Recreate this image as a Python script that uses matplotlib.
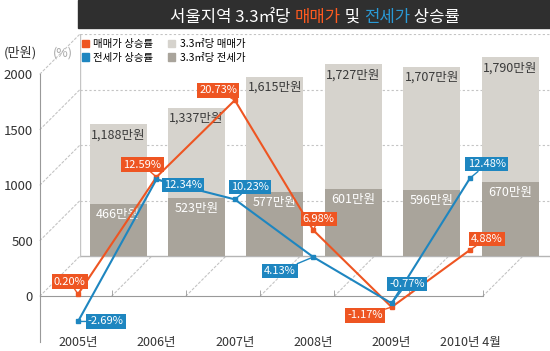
import numpy as np
import matplotlib.pyplot as plt
from matplotlib.patches import Rectangle, Patch, ConnectionPatch

plt.rcParams['font.family'] = ['Noto Sans CJK KR', 'DejaVu Sans']

years = ['2005년', '2006년', '2007년', '2008년', '2009년', '2010년 4월']
sale_price = [1188, 1337, 1615, 1727, 1707, 1790]      # 3.3㎡당 매매가 (만원)
jeonse_price = [466, 523, 577, 601, 596, 670]          # 3.3㎡당 전세가 (만원)
sale_rate = [0.20, 12.59, 20.73, 6.98, -1.17, 4.88]    # 매매가 상승률 (%)
jeonse_rate = [-2.69, 12.34, 10.23, 4.13, -0.77, 12.48]  # 전세가 상승률 (%)

# label box offsets (points) relative to each point
sale_off = [(-6, 9), (-10, 9), (-12, 7), (4, 8), (-19, -6), (12, 8)]
jeonse_off = [(20, 0), (19, -4), (11, 9), (-24, -10), (11, 14), (12, 10)]

ORANGE = '#ee5522'
BLUE = '#1e86c0'
LIGHT = '#d6d3cd'
DARK = '#a9a49b'
GRID = '#c4c4c4'

W, H = 550, 351


def box(l, t, r, b):
    return [l / W, 1 - b / H, (r - l) / W, (b - t) / H]


fig = plt.figure(figsize=(W / 100, H / 100), dpi=100)

# 3D 느낌: 뒤쪽 평면(막대)과 앞쪽 평면(선)
x = np.arange(len(years))
xl = -0.485
ylim = (-414, 2000)
pct_per_unit = 85.1

ax_back = fig.add_axes(box(80, 34, 550, 302))
ax_back.set_xlim(xl, xl + 470 / 78.4)
ax_back.set_ylim(*ylim)
ax_back.axis('off')
ax_back.set_zorder(1)
for g in [500, 1000, 1500, 2000]:
    ax_back.axhline(g, color=GRID, lw=0.8, ls=(0, (2, 2)), zorder=1)
ax_back.axhline(0, color='#b5b5b5', lw=1, zorder=1)
ax_back.plot([xl, xl], [0, 2000], color=GRID, lw=1, zorder=1)

ax_back.bar(x, sale_price, width=0.727, color=LIGHT, zorder=2)
ax_back.bar(x, jeonse_price, width=0.727, color=DARK, zorder=3)
for i in range(len(years)):
    ax_back.annotate(f'{sale_price[i]:,}만원', (x[i], sale_price[i]), xytext=(0, -3),
                     textcoords='offset points', ha='center', va='top',
                     fontsize=9, color='#3a3a3a', zorder=4)
    ax_back.annotate(f'{jeonse_price[i]}만원', (x[i], jeonse_price[i]), xytext=(0, -3),
                     textcoords='offset points', ha='center', va='top',
                     fontsize=9, color='white', zorder=4)

ax_front = fig.add_axes(box(40, 74, 483, 342))
ax_front.set_zorder(2)
ax_front.patch.set_visible(False)
ax_front.set_xlim(xl, xl + 443 / 78.4)
ax_front.set_ylim(*ylim)
for s in ['top', 'right']:
    ax_front.spines[s].set_visible(False)
ax_front.spines['left'].set_color('#999999')
ax_front.spines['bottom'].set_color('#999999')
ax_front.spines['bottom'].set_position(('data', 0))
ax_front.set_yticks([0, 500, 1000, 1500, 2000])
ax_front.tick_params(axis='y', length=0, pad=5, labelsize=9.5, labelcolor='#333333')
ax_front.set_xticks(x)
ax_front.set_xticklabels(years)
ax_front.tick_params(axis='x', which='major', length=0, pad=29, labelsize=9, labelcolor='#333333')
tick_pos = np.linspace(0.43, xl + 443 / 78.4, 6)
ax_front.set_xticks(tick_pos, minor=True)
ax_front.tick_params(axis='x', which='minor', direction='in', length=4, color='#999999')

# 앞뒤 평면을 잇는 점선
for yv in [0, 500, 1000, 1500, 2000]:
    fig.add_artist(ConnectionPatch((xl, yv), (xl, yv), coordsA=ax_front.transData,
                                   coordsB=ax_back.transData, color=GRID, lw=0.8,
                                   ls=(0, (2, 2))))
for tp in tick_pos:
    fig.add_artist(ConnectionPatch((tp, 0), (tp, 0), coordsA=ax_front.transData,
                                   coordsB=ax_back.transData, color=GRID, lw=0.8,
                                   ls=(0, (2, 2))))

ax_pct = ax_front.twinx()
ax_pct.set_zorder(3)
ax_pct.set_ylim(ylim[0] / pct_per_unit, ylim[1] / pct_per_unit)
ax_pct.axis('off')

for rates, offs, c in [(sale_rate, sale_off, ORANGE), (jeonse_rate, jeonse_off, BLUE)]:
    ax_pct.plot(x, rates, color=c, lw=1.5, marker='s', ms=3, zorder=3)
    for i, r in enumerate(rates):
        ax_pct.annotate(f'{r:.2f}%', (x[i], r), xytext=offs[i], textcoords='offset points',
                        ha='center', va='center', fontsize=8, color='white',
                        bbox=dict(boxstyle='square,pad=0.2', fc=c, ec='none'),
                        arrowprops=dict(arrowstyle='-', color=c, lw=1, shrinkA=0, shrinkB=0),
                        annotation_clip=False, zorder=4)

# 범례
handles = [Patch(color=ORANGE), Patch(color=BLUE), Patch(color=LIGHT), Patch(color=DARK)]
labels = ['매매가 상승률', '전세가 상승률', '3.3㎡당 매매가', '3.3㎡당 전세가']
fig.legend(handles, labels, ncol=2, loc='upper left', bbox_to_anchor=(82 / W, 1 - 39 / H),
           frameon=False, fontsize=7.5, handlelength=0.7, handleheight=0.7,
           handletextpad=0.4, columnspacing=1.4, labelspacing=0.35,
           borderpad=0, borderaxespad=0)

fig.text(20 / W, 1 - 53 / H, '(만원)', ha='center', va='center', fontsize=9.5, color='#333333')
fig.text(63 / W, 1 - 53 / H, '(%)', ha='center', va='center', fontsize=9, color='#aaaaaa')

# 제목 막대 (글자색이 섞인 제목)
fig.patches.append(Rectangle((78 / W, 1 - 28 / H), 472 / W, 28 / H,
                             transform=fig.transFigure, color='#2f2f2f', zorder=0))
pieces = [('서울지역 3.3㎡당 ', 'white'), ('매매가', '#ff5a1f'), (' 및 ', 'white'),
          ('전세가', '#2a9ad6'), (' 상승률', 'white')]
first = fig.text(0.5, 1 - 22 / H, pieces[0][0], color=pieces[0][1], ha='left',
                 va='baseline', fontsize=12)
prev = first
for s, c in pieces[1:]:
    prev = ax_back.annotate(s, xy=(1, 0), xycoords=prev, xytext=(0, 0),
                            textcoords='offset points', ha='left', va='bottom',
                            fontsize=12, color=c, annotation_clip=False)
fig.canvas.draw()
r = fig.canvas.get_renderer()
left = first.get_window_extent(r).x0
right = prev.get_window_extent(r).x1
first.set_x(first.get_position()[0] + (315 - (left + right) / 2) / W)

fig.savefig('out.png', dpi=100)
